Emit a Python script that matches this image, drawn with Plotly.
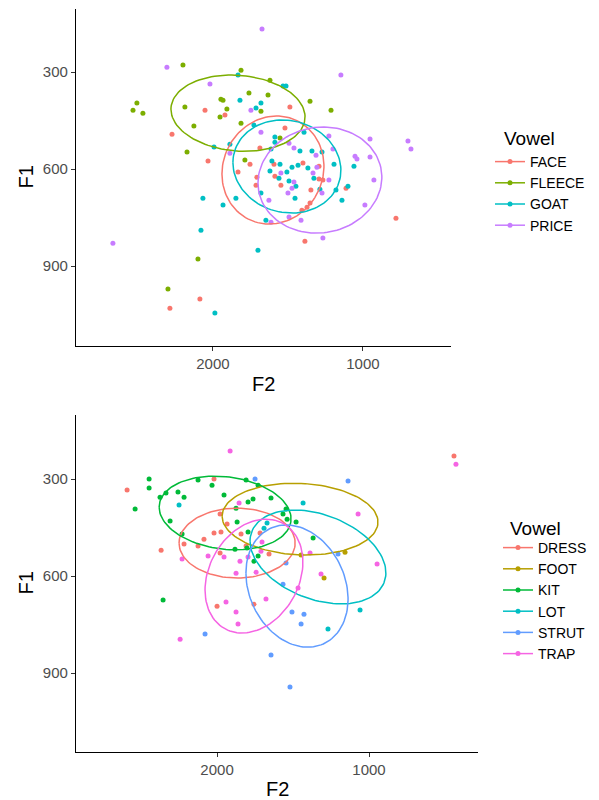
import numpy as np
import plotly.graph_objects as go

# ---------------- data: top panel (F2, F1 in Hz) ----------------
top_vowels = ["FACE", "FLEECE", "GOAT", "PRICE"]
top_colors = ["#F8766D", "#7CAE00", "#00BFC4", "#C77CFF"]

face_f2 = [2053, 1487, 1920, 1520, 2273, 1687, 2033, 1753, 1593, 1400, 1293, 1833, 1707, 1587,
           1293, 1267, 1713, 1547, 1347, 1113, 1353, 1373, 1407, 780, 1387, 2087, 2287]
face_f1 = [418, 408, 433, 473, 492, 535, 575, 585, 585, 581, 591, 609, 625, 622,
           631, 634, 650, 650, 665, 659, 705, 718, 727, 752, 823, 1002, 1030]

fleece_f2 = [2200, 1813, 1620, 1760, 1633, 1947, 1933, 2507, 1353, 2187, 1907, 1680, 1213, 2533,
             2467, 1953, 1813, 2127, 1553, 2173, 1787, 2100, 2300]
fleece_f1 = [278, 294, 325, 365, 371, 384, 387, 396, 390, 408, 414, 421, 418, 418,
             427, 439, 458, 467, 504, 547, 572, 878, 971]

goat_f2 = [1833, 1533, 1513, 1820, 1680, 1713, 1727, 1393, 1587, 1587, 1993, 1887, 1613, 1420,
           1340, 1273, 1607, 1553, 1433, 1473, 1367, 1193, 1060, 1620, 1507, 1560, 1493, 1447,
           1327, 1287, 1180, 1100, 1680, 1453, 1140, 2067, 1933, 1847, 1647, 2080, 1700, 1987]
goat_f1 = [309, 343, 343, 387, 396, 411, 464, 486, 501, 517, 532, 523, 538, 544,
           544, 547, 575, 585, 588, 594, 597, 585, 591, 606, 609, 628, 637, 653,
           628, 662, 665, 653, 674, 690, 696, 690, 711, 690, 758, 789, 851, 1045]

price_f2 = [1673, 2307, 1147, 2020, 1747, 1680, 1227, 953, 700, 680, 1493, 1460, 1887, 1313,
            1200, 1053, 1040, 953, 1307, 1547, 1333, 1227, 1460, 1473, 1500, 1273, 927, 1627,
            987, 1613, 1493, 1413, 1267, 2667]
price_f1 = [167, 285, 309, 337, 418, 486, 498, 507, 513, 538, 520, 535, 551, 557,
            538, 560, 569, 563, 594, 612, 612, 634, 640, 659, 674, 674, 634, 696,
            711, 764, 748, 758, 813, 829]

top_f2 = [face_f2, fleece_f2, goat_f2, price_f2]
top_f1 = [face_f1, fleece_f1, goat_f1, price_f1]

# ellipse parameters (centre F2, centre F1, F2 half-width, F1 half-height, F1 offset at max F2)
top_ell_cx = [1600, 1833, 1507, 1287]
top_ell_cy = [603, 427, 592, 634]
top_ell_rx = [340, 447, 360, 413]
top_ell_h = [167, 118, 144, 164]
top_ell_k = [12, -12, -12, 9]

# ---------------- data: bottom panel ----------------
bot_vowels = ["DRESS", "FOOT", "KIT", "LOT", "STRUT", "TRAP"]
bot_colors = ["#F8766D", "#B79F00", "#00BA38", "#00BFC4", "#619CFF", "#F564E3"]

dress_f2 = [2592, 2020, 1980, 1934, 2020, 1974, 1842, 1717, 2086, 2217, 2125, 1809, 2368, 1980,
            1658, 2000, 1757, 441]
dress_f1 = [334, 300, 408, 439, 467, 464, 470, 467, 486, 501, 507, 507, 520, 529,
            532, 693, 687, 229]

foot_f2 = [1447, 1158, 1296]
foot_f1 = [535, 526, 606]

kit_f2 = [2447, 2447, 2375, 2336, 2257, 2217, 2539, 2309, 2125, 2033, 1809, 1730, 1954, 1796,
          1763, 1645, 1875, 1546, 1566, 1539, 1480, 1868, 2230, 1796, 1882, 1803, 1730, 1757,
          1368, 2355]
kit_f1 = [300, 328, 356, 343, 340, 356, 393, 430, 303, 319, 303, 319, 349, 371,
          362, 359, 390, 393, 408, 424, 433, 433, 470, 464, 517, 513, 538, 554,
          482, 674]

lot_f2 = [2250, 1434, 1671, 1691, 1059, 1270]
lot_f1 = [380, 374, 436, 452, 705, 764]

strut_f2 = [1750, 1138, 1204, 1546, 1566, 1507, 1428, 1447, 2079, 1645, 1520]
strut_f1 = [300, 306, 532, 560, 625, 711, 718, 748, 779, 844, 943]

trap_f2 = [1914, 1855, 1072, 1704, 1711, 2059, 2230, 1954, 1796, 1388, 1849, 947, 1875, 1743,
           1316, 1467, 1678, 1941, 1875, 1862, 2243, 428]
trap_f1 = [213, 374, 408, 495, 523, 538, 547, 541, 541, 529, 554, 563, 591, 588,
           594, 637, 671, 680, 711, 748, 795, 254]

bot_f2 = [dress_f2, foot_f2, kit_f2, lot_f2, strut_f2, trap_f2]
bot_f1 = [dress_f1, foot_f1, kit_f1, lot_f1, strut_f1, trap_f1]

bot_ell_cx = [1868, 1454, 1947, 1336, 1474, 1757]
bot_ell_cy = [498, 424, 405, 541, 631, 600]
bot_ell_rx = [382, 513, 434, 447, 336, 322]
bot_ell_h = [108, 111, 114, 145, 189, 176]
bot_ell_k = [0, -9, -18, -49, -40, 43]

tick_vals_f2 = [2000, 1000]
tick_vals_f1 = [300, 600, 900]

FONT = "Liberation Sans, Arial, sans-serif"
W, H = 599, 800


def ellipse(cx, cy, rx, h, k, n=120):
    t = np.linspace(0, 2 * np.pi, n)
    ry = np.sqrt(max(h * h - k * k, 1.0))
    return cx + rx * np.cos(t), cy + k * np.cos(t) + ry * np.sin(t)


fig = go.Figure()


def add_panel(vowels, colors, f2s, f1s, ecx, ecy, erx, eh, ek, xa, ya, legend):
    for v, c, x, y in zip(vowels, colors, f2s, f1s):
        fig.add_trace(go.Scatter(x=x, y=y, mode="markers", xaxis=xa, yaxis=ya,
                                 marker=dict(color=c, size=5), showlegend=False,
                                 legendgroup=v, hoverinfo="x+y"))
    for v, c, cx, cy, rx, h, k in zip(vowels, colors, ecx, ecy, erx, eh, ek):
        ex, ey = ellipse(cx, cy, rx, h, k)
        fig.add_trace(go.Scatter(x=ex, y=ey, mode="lines", xaxis=xa, yaxis=ya,
                                 line=dict(color=c, width=1.5), showlegend=False,
                                 legendgroup=v, hoverinfo="skip"))
    for v, c in zip(vowels, colors):
        fig.add_trace(go.Scatter(x=[None], y=[None], mode="lines+markers", xaxis=xa, yaxis=ya,
                                 line=dict(color=c, width=1.5), marker=dict(color=c, size=5),
                                 name=v, legend=legend, legendgroup=v))


add_panel(top_vowels, top_colors, top_f2, top_f1, top_ell_cx, top_ell_cy, top_ell_rx,
          top_ell_h, top_ell_k, "x", "y", "legend")
add_panel(bot_vowels, bot_colors, bot_f2, bot_f1, bot_ell_cx, bot_ell_cy, bot_ell_rx,
          bot_ell_h, bot_ell_k, "x2", "y2", "legend2")

axis_common = dict(showline=True, linecolor="black", linewidth=1.2, ticks="outside",
                   ticklen=4, tickcolor="#333333", tickwidth=1.1, showgrid=False,
                   zeroline=False, automargin=False,
                   tickfont=dict(family=FONT, size=15, color="#4D4D4D"))

fig.update_layout(
    width=W, height=H,
    margin=dict(l=0, r=0, t=0, b=0),
    paper_bgcolor="white", plot_bgcolor="white",
    font=dict(family=FONT),
    xaxis=dict(domain=[76 / W, 451 / W], range=[2913, 413], tickvals=tick_vals_f2,
               anchor="y", **axis_common),
    yaxis=dict(domain=[1 - 346 / H, 1 - 9 / H], range=[1147, 105], tickvals=tick_vals_f1,
               anchor="x", **axis_common),
    xaxis2=dict(domain=[76 / W, 478 / W], range=[2928, 283], tickvals=tick_vals_f2,
                anchor="y2", **axis_common),
    yaxis2=dict(domain=[1 - 752 / H, 1 - 415 / H], range=[1144, 102], tickvals=tick_vals_f1,
                anchor="x2", **axis_common),
    legend=dict(x=490 / W, y=1 - 146 / H, xanchor="left", yanchor="top",
                font=dict(family=FONT, size=14, color="black"), bgcolor="rgba(0,0,0,0)",
                itemwidth=30, tracegroupgap=0),
    legend2=dict(x=498 / W, y=1 - 532 / H, xanchor="left", yanchor="top",
                 font=dict(family=FONT, size=14, color="black"), bgcolor="rgba(0,0,0,0)",
                 itemwidth=30, tracegroupgap=0),
    showlegend=True,
)

title_font = dict(family=FONT, size=20, color="black")
ann = [
    dict(text="F1", x=25 / W, y=1 - 177.5 / H, textangle=-90),
    dict(text="F2", x=263.5 / W, y=1 - 384 / H),
    dict(text="F1", x=25 / W, y=1 - 583.5 / H, textangle=-90),
    dict(text="F2", x=277 / W, y=1 - 789 / H),
]
for a in ann:
    fig.add_annotation(xref="paper", yref="paper", showarrow=False, font=title_font,
                       xanchor="center", yanchor="middle", **a)
for txt, x, y in [("Vowel", 502, 139), ("Vowel", 508, 528)]:
    fig.add_annotation(text=txt, xref="paper", yref="paper", x=x / W, y=1 - y / H,
                       xanchor="left", yanchor="middle", showarrow=False,
                       font=dict(family=FONT, size=19, color="black"))

fig.write_html("out.html", config={"displayModeBar": False},
               post_script="document.body.style.margin='0px';")
